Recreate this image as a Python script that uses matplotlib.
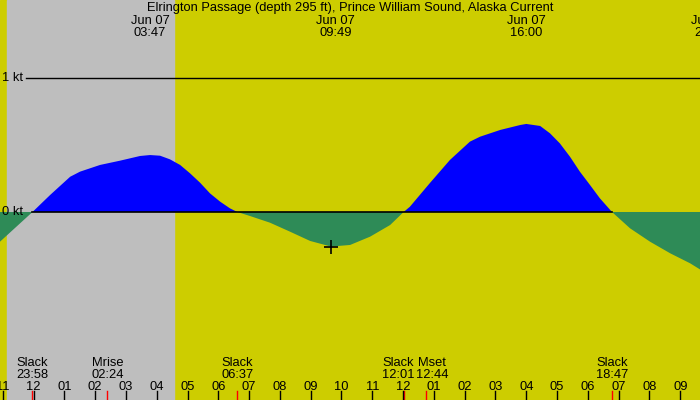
import numpy as np
import matplotlib
matplotlib.use('Agg')
import matplotlib.pyplot as plt
import matplotlib.transforms as mtransforms

plt.rcParams['font.family'] = ['Liberation Sans', 'DejaVu Sans']

# current speed in knots, hours after midnight Jun 07
hours = [-1.09, -0.033, 0.54, 1.19, 1.51, 2.16, 2.81, 3.46, 3.783, 4.11, 4.43, 4.76,
         5.08, 5.41, 5.73, 6.06, 6.38, 6.617, 7.03, 7.68, 8.33, 8.98, 9.66, 10.28,
         10.93, 11.58, 12.017, 12.22, 12.87, 13.52, 14.17, 14.50, 15.15, 15.80, 16.0,
         16.45, 16.77, 17.09, 17.42, 17.74, 18.07, 18.39, 18.783, 19.37, 20.02, 20.67,
         21.32, 21.65]
speed = [-0.222, 0.0, 0.127, 0.263, 0.301, 0.351, 0.383, 0.418, 0.425, 0.420, 0.393, 0.351,
         0.289, 0.218, 0.139, 0.077, 0.027, 0.0, -0.030, -0.080, -0.147, -0.216, -0.258, -0.246,
         -0.184, -0.097, 0.0, 0.039, 0.216, 0.388, 0.525, 0.562, 0.612, 0.649, 0.657,
         0.642, 0.587, 0.512, 0.412, 0.301, 0.201, 0.102, 0.0, -0.122, -0.222, -0.308,
         -0.383, -0.430]

sunset, sunrise = -0.867, 4.567

peak_times = [3.783, 9.817, 16.0, 21.98]
peak_labels = ['03:47', '09:49', '16:00', '22:04']
ebb_time, ebb_speed = 9.66, -0.258

event_times = [-0.033, 2.4, 6.617, 12.017, 12.733, 18.783]
event_names = ['Slack', 'Mrise', 'Slack', 'Slack', 'Mset', 'Slack']
event_labels = ['23:58', '02:24', '06:37', '12:01', '12:44', '18:47']
# nudge crowded labels apart (hours)
label_shift = [0, 0, 0, -0.18, 0.2, 0]

hour_ticks = list(range(-1, 22))
hour_labels = ['%02d' % ((h - 1) % 12 + 1) for h in hour_ticks]

t0, t1 = -1.088, 21.64
yellow = '#cdcd00'

fig = plt.figure(figsize=(7, 4), dpi=100)
ax = fig.add_axes([0, 0, 1, 1])
ax.set_xlim(t0, t1)
ax.set_ylim(-1.403, 1.582)
ax.axis('off')
ax.add_patch(plt.Rectangle((0, 0), 1, 1, transform=ax.transAxes, color=yellow, zorder=0))
ax.axvspan(sunset, sunrise, color='#bebebe', zorder=1)

t = np.array(hours)
v = np.array(speed)
ax.fill_between(t, v, 0, where=v >= 0, interpolate=True, color='#0000ff', lw=0, zorder=2)
ax.fill_between(t, v, 0, where=v <= 0, interpolate=True, color='#2e8b57', lw=0, zorder=2)

ax.plot([-0.244, t1], [1, 1], color='black', lw=1, zorder=3)
ax.plot([event_times[0], event_times[-1]], [0, 0], color='black', lw=1.2, zorder=3)
ax.plot([ebb_time], [ebb_speed], marker='+', color='black', ms=10, mew=1.2, zorder=4)

trans = mtransforms.blended_transform_factory(ax.transData, ax.transAxes)
fs = 9.3


def ypos(pix):
    return 1 - pix / 400


ax.text(t0 + 0.06, 1, '1 kt', ha='left', va='center', fontsize=fs, zorder=5)
ax.text(t0 + 0.06, 0, '0 kt', ha='left', va='center', fontsize=fs, zorder=5)

ax.text(0.5, ypos(11.5), 'Elrington Passage (depth 295 ft), Prince William Sound, Alaska Current',
        transform=ax.transAxes, ha='center', va='baseline', fontsize=fs)
for pt, pl in zip(peak_times, peak_labels):
    ax.text(pt, ypos(24), 'Jun 07', transform=trans, ha='center', va='baseline', fontsize=fs)
    ax.text(pt, ypos(36), pl, transform=trans, ha='center', va='baseline', fontsize=fs)

for et, en, el, sh in zip(event_times, event_names, event_labels, label_shift):
    ax.text(et + sh, ypos(366.5), en, transform=trans, ha='center', va='baseline', fontsize=fs)
    ax.text(et + sh, ypos(377.5), el, transform=trans, ha='center', va='baseline', fontsize=fs)
    ax.plot([et, et], [0, ypos(391)], transform=trans, color='red', lw=1, zorder=5)

for h, hl in zip(hour_ticks, hour_labels):
    ax.text(h, ypos(390), hl, transform=trans, ha='center', va='baseline', fontsize=fs)
    ax.plot([h, h], [0, ypos(391)], transform=trans, color='black', lw=1, zorder=6)

fig.savefig('out.png', dpi=100)
